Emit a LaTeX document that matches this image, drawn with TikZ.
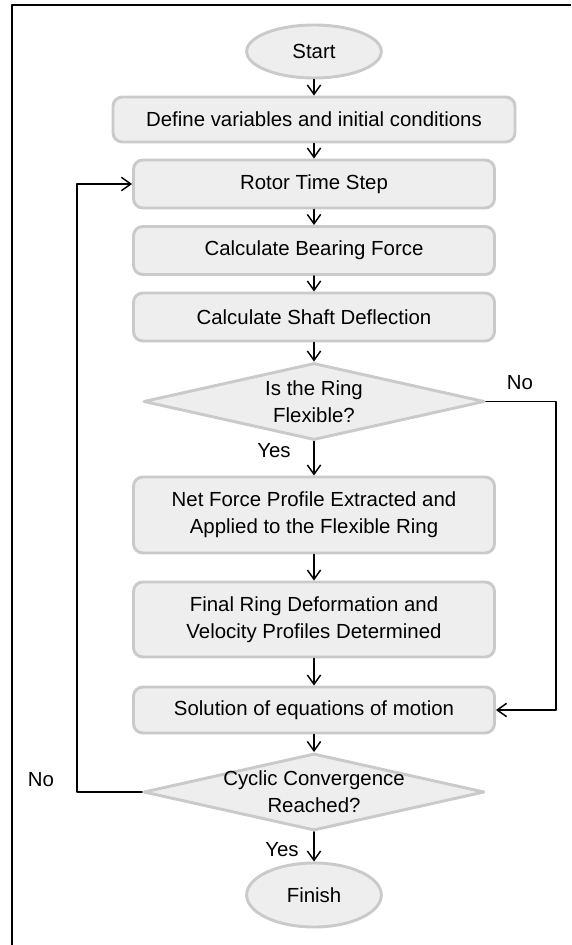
\documentclass[tikz,border=0pt]{standalone}
\usepackage{fontspec}
\setmainfont{Liberation Sans}
\usetikzlibrary{shapes.geometric,arrows.meta}
\definecolor{boxfill}{HTML}{EEEEEE}
\definecolor{boxline}{HTML}{CACACA}
\begin{document}
\begin{tikzpicture}[x=0.75pt, y=-0.75pt, line cap=round, line join=round,
    font=\fontsize{15.3pt}{20.3pt}\selectfont,
    proc/.style={draw=boxline, fill=boxfill, line width=2.2pt, rounded corners=7pt,
      minimum width=270.75pt, align=center, inner sep=0pt},
    term/.style={ellipse, draw=boxline, fill=boxfill, line width=2.2pt,
      minimum width=101pt, inner sep=0pt},
    decision/.style={diamond, draw=boxline, fill=boxfill, line width=2.2pt,
      minimum width=255.75pt, minimum height=57.75pt, inner sep=0pt},
    dtext/.style={align=center, inner sep=0pt},
    flow/.style={line width=1.1pt, -{Straight Barb[length=7pt,width=10pt]}},
    lbl/.style={inner sep=1pt}]
  \useasboundingbox (0,0) rectangle (571,945);
  \draw[line width=1.5pt, line cap=butt] (571,5) -- (12,5) -- (12,945);
  \node[term, minimum height=39.75pt] (start) at (314,51.5) {Start};
  \node[proc, minimum width=301.5pt, minimum height=33.75pt] (define) at (314,119.5)
    {Define variables and initial conditions};
  \node[proc, minimum height=36pt] (rotor) at (314,184) {Rotor Time Step};
  \node[proc, minimum height=36pt] (bearing) at (314,250.5) {Calculate Bearing Force};
  \node[proc, minimum height=36pt] (shaft) at (314,317) {Calculate Shaft Deflection};
  \node[decision, label={[dtext]center:Is the Ring\\Flexible?}] (flex) at (314,401.5) {};
  \node[proc, minimum height=57pt] (netforce) at (314,515)
    {Net Force Profile Extracted and\\Applied to the Flexible Ring};
  \node[proc, minimum height=56.25pt] (deform) at (314,619.5)
    {Final Ring Deformation and\\Velocity Profiles Determined};
  \node[proc, minimum height=34.5pt] (solve) at (314,710) {Solution of equations of motion};
  \node[decision, label={[dtext]center:Cyclic Convergence\\Reached?}] (conv) at (314,792) {};
  \node[term, minimum height=48pt] (finish) at (314,895) {Finish};
  \foreach \a/\b in {start/define, define/rotor, rotor/bearing, bearing/shaft, shaft/flex,
      flex/netforce, netforce/deform, deform/solve, solve/conv, conv/finish}
    \draw[flow] (\a) -- (\b);
  \coordinate (skipR) at (556,401.5);
  \coordinate (loopL) at (77,792);
  \draw[flow] (flex.east) -- (skipR) |- (solve.east);
  \draw[flow] (conv.west) -- (loopL) |- (rotor.west);
  \node[lbl] (no1) at (520,383) {No};
  \node[lbl] (yes1) at (274,451) {Yes};
  \node[lbl] (no2) at (41,780) {No};
  \node[lbl] (yes2) at (282,850) {Yes};
\end{tikzpicture}
\end{document}
